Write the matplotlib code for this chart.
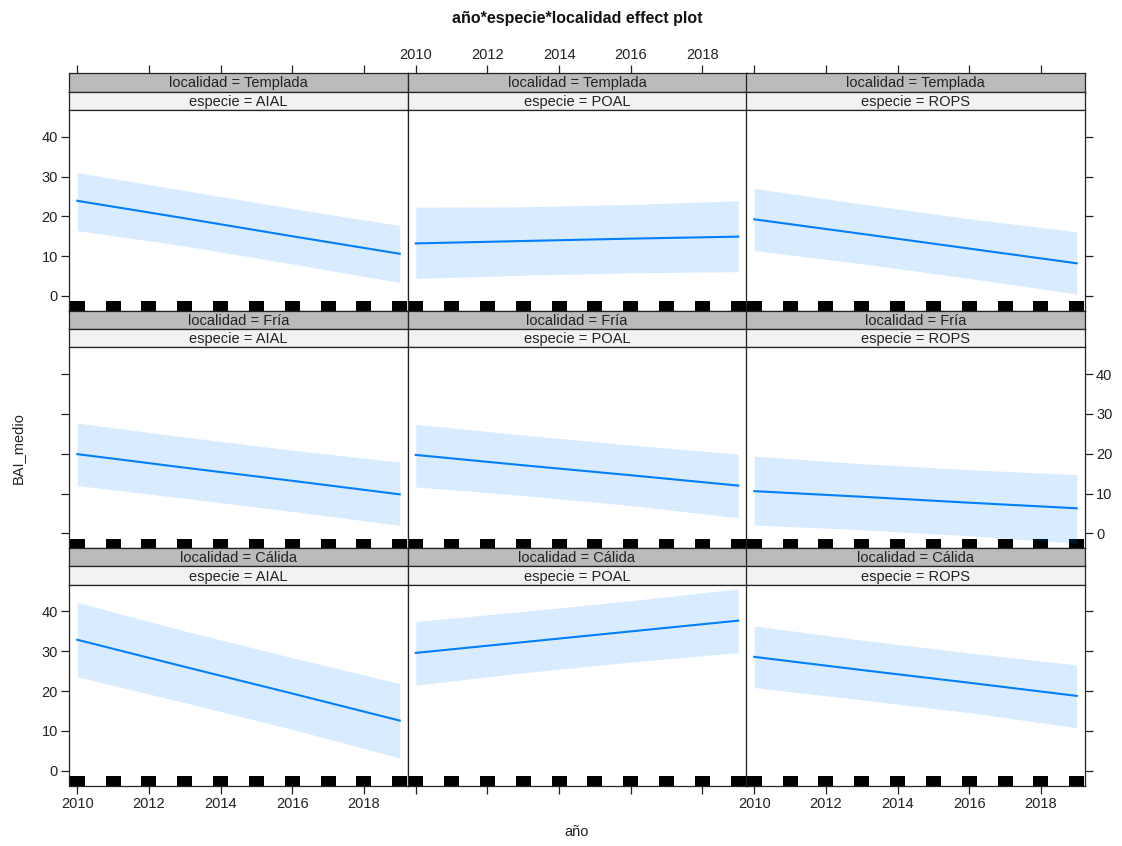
import matplotlib
matplotlib.use("Agg")
import matplotlib.pyplot as plt
from matplotlib.patches import Rectangle

plt.rcParams['font.family'] = ['Liberation Sans', 'DejaVu Sans']

# ---------------- data ----------------
localidades = ["Templada", "Fría", "Cálida"]
especies = ["AIAL", "POAL", "ROPS"]
years = [2010, 2013, 2016, 2019]
rug_years = [2010, 2011, 2012, 2013, 2014, 2015, 2016, 2017, 2018, 2019]
xticks = [2010, 2012, 2014, 2016, 2018]
yticks = [0, 10, 20, 30, 40]

# Templada
fit_T_AIAL = [23.9, 19.5, 15.0, 10.6]
up_T_AIAL  = [31.0, 26.45, 21.95, 17.7]
lo_T_AIAL  = [16.4, 12.55, 8.05, 3.35]
fit_T_POAL = [13.2, 13.8, 14.4, 14.9]
up_T_POAL  = [22.3, 22.4, 23.0, 23.9]
lo_T_POAL  = [4.4, 5.2, 5.8, 6.1]
fit_T_ROPS = [19.25, 15.6, 11.9, 8.2]
up_T_ROPS  = [27.0, 23.1, 19.4, 16.1]
lo_T_ROPS  = [11.4, 8.1, 4.4, 0.5]
# Fría
fit_F_AIAL = [19.9, 16.5, 13.2, 9.8]
up_F_AIAL  = [27.7, 24.2, 20.9, 17.9]
lo_F_AIAL  = [12.0, 8.8, 5.5, 2.0]
fit_F_POAL = [19.7, 17.1, 14.6, 12.0]
up_F_POAL  = [27.4, 24.7, 22.2, 19.9]
lo_F_POAL  = [11.65, 9.5, 7.0, 3.9]
fit_F_ROPS = [10.6, 9.2, 7.7, 6.3]
up_F_ROPS  = [19.4, 17.5, 16.0, 14.75]
lo_F_ROPS  = [2.1, 0.9, -0.6, -2.5]
# Cálida
fit_C_AIAL = [32.9, 26.1, 19.4, 12.6]
up_C_AIAL  = [42.3, 35.1, 28.4, 21.9]
lo_C_AIAL  = [23.6, 17.1, 10.4, 3.2]
fit_C_POAL = [29.6, 32.3, 35.0, 37.7]
up_C_POAL  = [37.5, 40.0, 42.7, 45.7]
lo_C_POAL  = [21.5, 24.6, 27.3, 29.7]
fit_C_ROPS = [28.6, 25.3, 22.1, 18.8]
up_C_ROPS  = [36.4, 32.8, 29.6, 26.6]
lo_C_ROPS  = [20.9, 17.8, 14.6, 10.8]

panels = [
    [(fit_T_AIAL, lo_T_AIAL, up_T_AIAL), (fit_T_POAL, lo_T_POAL, up_T_POAL), (fit_T_ROPS, lo_T_ROPS, up_T_ROPS)],
    [(fit_F_AIAL, lo_F_AIAL, up_F_AIAL), (fit_F_POAL, lo_F_POAL, up_F_POAL), (fit_F_ROPS, lo_F_ROPS, up_F_ROPS)],
    [(fit_C_AIAL, lo_C_AIAL, up_C_AIAL), (fit_C_POAL, lo_C_POAL, up_C_POAL), (fit_C_ROPS, lo_C_ROPS, up_C_ROPS)],
]

# ---------------- layout ----------------
W, H = 1122, 846
fig = plt.figure(figsize=(W / 100, H / 100), dpi=100)

def fr(x0, y0, w, h):
    return [x0 / W, 1 - (y0 + h) / H, w / W, h / H]

col_left = [69, 407.5, 746]
col_w = 339
strip_h = 18.35
strip_top = [73.3, 310.7, 548.1]
plot_h = 200.7
XLIM = (2009.77, 2019.23)
YLIM = (-3.7, 46.7)

line_col = "#0080FF"
band_col = "#0080FF"
strip1_col = "#BBBBBB"
strip2_col = "#F2F2F2"
fs = 10.5

for r in range(3):
    for c in range(3):
        x0 = col_left[c]
        st = strip_top[r]
        # strips
        s1 = fig.add_axes(fr(x0, st, col_w, strip_h))
        s2 = fig.add_axes(fr(x0, st + strip_h, col_w, strip_h))
        for s, colr, txt in ((s1, strip1_col, f"localidad = {localidades[r]}"),
                             (s2, strip2_col, f"especie = {especies[c]}")):
            s.set_facecolor(colr)
            s.set_xlim(*XLIM)
            s.set_ylim(0, 1)
            s.set_yticks([])
            s.set_xticks([])
            for sp in s.spines.values():
                sp.set_linewidth(0.9)
                sp.set_color("#222222")
            s.text(0.5, 0.45, txt, transform=s.transAxes, ha="center", va="center",
                   fontsize=fs, color="#222222")
        if r == 0:
            s1.set_xticks(xticks)
            s1.tick_params(axis="x", which="both", top=True, bottom=False,
                           labeltop=(c == 1), labelbottom=False, direction="out",
                           length=6, width=0.9, pad=2, labelsize=fs, colors="#222222")
        # panel
        ax = fig.add_axes(fr(x0, st + 2 * strip_h, col_w, plot_h))
        ax.set_xlim(*XLIM)
        ax.set_ylim(*YLIM)
        for sp in ax.spines.values():
            sp.set_linewidth(0.9)
            sp.set_color("#222222")
        fit, lo, up = panels[r][c]
        # rug
        trans = ax.get_xaxis_transform()
        for yr in rug_years:
            ax.add_patch(Rectangle((yr - 0.21, 0.0), 0.42, 0.046, transform=trans,
                                   facecolor="black", edgecolor="none", clip_on=False, zorder=1))
        ax.fill_between(years, lo, up, color=band_col, alpha=0.15, linewidth=0, zorder=2)
        ax.plot(years, fit, color=line_col, lw=1.5, zorder=3)

        # ticks
        ax.set_xticks(xticks)
        ax.set_yticks(yticks)
        ax.tick_params(direction="out", length=6, width=0.9, labelsize=fs, colors="#222222", pad=2)
        ax.tick_params(axis="x", top=False, labeltop=False,
                       bottom=(r == 2), labelbottom=(r == 2 and c != 1))
        ax.tick_params(axis="y",
                       left=(c == 0), labelleft=(c == 0 and r != 1),
                       right=(c == 2), labelright=(c == 2 and r == 1))

# titles and axis labels
fig.text(577 / W, 1 - 18 / H, "año*especie*localidad effect plot", ha="center", va="center",
         fontsize=11.5, fontweight="bold", color="#111111")
fig.text(577 / W, 1 - 832 / H, "año", ha="center", va="center", fontsize=fs, color="#222222")
fig.text(18 / W, 1 - 448 / H, "BAI_medio", ha="center", va="center", rotation=90,
         fontsize=fs, color="#222222")

fig.savefig("out.png", dpi=100)
